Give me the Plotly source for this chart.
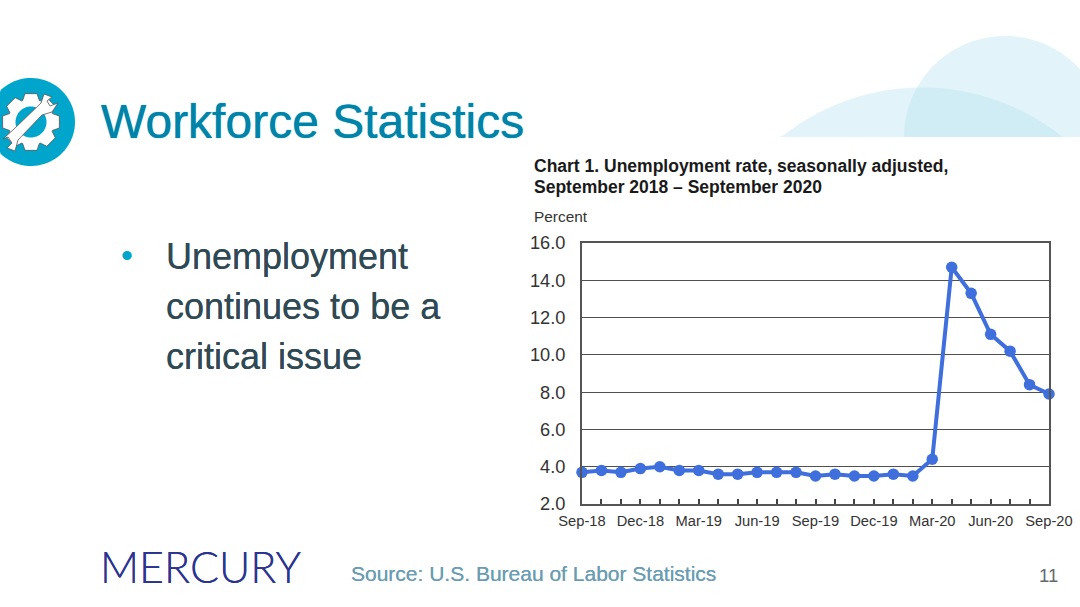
import numpy as np
import plotly.graph_objects as go

W, H = 1080, 607
months = ["Sep-18","Oct-18","Nov-18","Dec-18","Jan-19","Feb-19","Mar-19","Apr-19","May-19","Jun-19","Jul-19","Aug-19",
          "Sep-19","Oct-19","Nov-19","Dec-19","Jan-20","Feb-20","Mar-20","Apr-20","May-20","Jun-20","Jul-20","Aug-20","Sep-20"]
rate = [3.7,3.8,3.7,3.9,4.0,3.8,3.8,3.6,3.6,3.7,3.7,3.7,3.5,3.6,3.5,3.5,3.6,3.5,4.4,14.7,13.3,11.1,10.2,8.4,7.9]
labelled = ["Sep-18","Dec-18","Mar-19","Jun-19","Sep-19","Dec-19","Mar-20","Jun-20","Sep-20"]
y_ticks = [2,4,6,8,10,12,14,16]

PL, PR, PT, PB = 582, 1049, 243, 504

def px(x): return x / W
def py(y): return 1 - y / H

def poly(points):
    return "M " + " L ".join(f"{px(x):.5f},{py(y):.5f}" for x, y in points) + " Z"

def clipped_circle(cx, cy, r, ymax=137):
    a = np.linspace(0, 2*np.pi, 240)
    return poly([(min(cx + r*np.cos(t), W), min(cy + r*np.sin(t), ymax)) for t in a])

def gear(cx, cy, r_out, r_root, teeth=8, rot=0.0):
    pts = []
    step = 2*np.pi/teeth
    for i in range(teeth):
        c = rot + i*step
        for off, r in [(-0.5, r_root), (-0.28, r_out), (0.28, r_out), (0.5, r_root)]:
            t = c + off*step*0.95
            pts.append((max(cx + r*np.cos(t), 0), cy + r*np.sin(t)))
    return poly(pts)

def disc(cx, cy, r):
    a = np.linspace(0, 2*np.pi, 90)
    return poly([(max(cx + r*np.cos(t), 0), cy + r*np.sin(t)) for t in a])

shapes = []
def add(path, fill, line=None, lw=0):
    shapes.append(dict(type="path", xref="paper", yref="paper", path=path, fillcolor=fill,
                       line=dict(color=line or "rgba(0,0,0,0)", width=lw), layer="below"))

add(clipped_circle(922, 312, 224.5), "rgba(178,226,240,0.38)")
add(clipped_circle(1005, 137, 101), "rgba(178,226,240,0.38)")
add(disc(31, 122, 44), "#00A5CC")
add(gear(31, 122, 29, 23, rot=0.0), "#FFFFFF", "#555555", 0.8)
add(disc(31, 122, 15.5), "#00A5CC")
add(poly([(3,139),(14,129),(41,103),(44,94),(52,97),(47,101),(50,106),(58,103),(52,112),(42,115),(18,140),(15,151),(7,148),(12,143),(8,137)]),
    "#FFFFFF", "#555555", 0.8)

fig = go.Figure(go.Scatter(
    x=months, y=rate, mode="lines+markers", cliponaxis=False,
    line=dict(color="#3F6FDC", width=4),
    marker=dict(color="#3F6FDC", size=11.5),
    hoverinfo="x+y"))

def text(x, y, s, size, color, anchor="left", family="Liberation Sans", weight=None, shadow=None):
    f = dict(family=family, size=size, color=color)
    if weight: f["weight"] = weight
    if shadow: f["shadow"] = shadow
    return dict(xref="paper", yref="paper", x=px(x), y=py(y), text=s, showarrow=False, xanchor=anchor,
                yanchor="middle", align="left", font=f, borderpad=0, borderwidth=0)

ann = [
    text(101, 121, "Workforce Statistics", 48, "#0083A9", shadow="0 0 1px #0083A9"),
    text(121, 255, "•", 34, "#00A5CC"),
    text(166, 256, "Unemployment", 36, "#2F4A55", shadow="0 0 0.6px #2F4A55"),
    text(166, 306, "continues to be a", 36, "#2F4A55", shadow="0 0 0.6px #2F4A55"),
    text(166, 356, "critical issue", 36, "#2F4A55", shadow="0 0 0.6px #2F4A55"),
    text(534, 166, "<b>Chart 1. Unemployment rate, seasonally adjusted,</b>", 17.5, "#1A1A1A"),
    text(534, 187, "<b>September 2018 – September 2020</b>", 17.5, "#1A1A1A"),
    text(534, 216, "Percent", 15.4, "#333333"),
    text(100, 566, "MERCURY", 43, "#2B3590", family="Lato", weight=300, shadow="0 0 0.6px #2B3590"),
    text(351, 573, "Source: U.S. Bureau of Labor Statistics", 21, "#6A9DB2", shadow="0 0 0.5px #6A9DB2"),
    text(1058, 575, "11", 18.5, "#5F6B70", anchor="right"),
]

fig.update_layout(
    width=W, height=H, autosize=False, showlegend=False,
    paper_bgcolor="#FFFFFF", plot_bgcolor="rgba(0,0,0,0)",
    margin=dict(l=0, r=0, t=0, b=0, pad=0),
    shapes=shapes, annotations=ann,
    xaxis=dict(domain=[px(PL), px(PR)], automargin=False, type="category", categoryorder="array", categoryarray=months,
               range=[0, len(months)-1], tickmode="array", tickvals=months,
               ticktext=[m if m in labelled else "" for m in months],
               ticks="inside", ticklen=5, tickwidth=1.5, tickcolor="#444444", tickangle=0, ticklabelstandoff=2,
               tickfont=dict(family="Liberation Sans", size=14.7, color="#333333"),
               showgrid=False, zeroline=False, showline=True, linecolor="#555555", linewidth=2, mirror=True),
    yaxis=dict(domain=[py(PB), py(PT)], automargin=False, range=[2, 16], tickmode="array", tickvals=y_ticks,
               ticktext=[f"{v:.1f}" for v in y_ticks], ticks="", ticklabelstandoff=11,
               tickfont=dict(family="Liberation Sans", size=18.2, color="#333333"),
               showgrid=True, gridcolor="#505050", gridwidth=1.4, zeroline=False,
               showline=True, linecolor="#555555", linewidth=2, mirror=True),
)
fig.write_html("out.html", config=dict(displayModeBar=False),
               post_script="document.body.style.margin='0';document.body.style.overflow='hidden';")
